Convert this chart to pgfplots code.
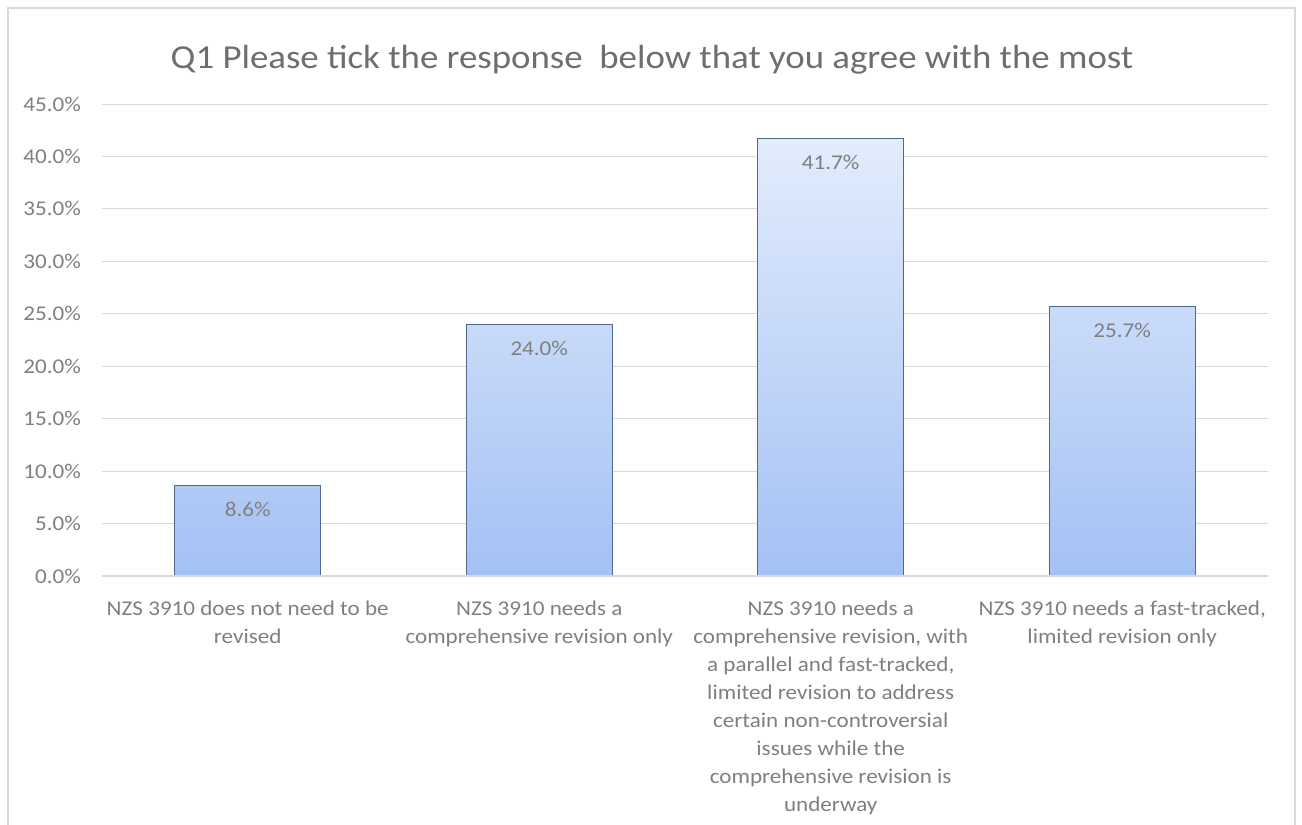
\documentclass[border=0pt]{standalone}
\usepackage{pgfplots}
\pgfplotsset{compat=1.18}
\usepackage{fontspec}
\setmainfont{Carlito}[FakeStretch=1.1]
\definecolor{txt}{HTML}{7F7F7F}
\definecolor{ttl}{HTML}{6E6E6E}
\definecolor{gridc}{HTML}{D9D9D9}
\definecolor{bartop}{HTML}{E2ECFC}
\definecolor{barbot}{HTML}{A4C1F4}
\definecolor{barline}{HTML}{52688A}
\begin{document}
\begin{tikzpicture}[x=1pt,y=1pt]
\useasboundingbox (0,0) rectangle (1302,825);
\begin{scope}
\clip (0,0) rectangle (1302,825);
\draw[gridc, line width=1.2pt] (8,-5) rectangle (1295,817);
\end{scope}
\node[text=ttl, font=\fontsize{33.5}{40}\selectfont, anchor=base] at (652,756) {Q1 Please tick the response~ below that you agree with the most};
\begin{axis}[
  at={(102pt,249pt)}, anchor=south west,
  scale only axis, width=1166pt, height=472pt,
  xmin=-0.5, xmax=3.5, ymin=0, ymax=45,
  ytick={0,5,...,45},
  xtick={0,1,2,3},
  xticklabels={
    {NZS 3910 does not need to be\\revised},
    {NZS 3910 needs a\\comprehensive revision only},
    {NZS 3910 needs a\\comprehensive revision, with\\a parallel and fast-tracked,\\limited revision to address\\certain non-controversial\\issues while the\\comprehensive revision is\\underway},
    {NZS 3910 needs a fast-tracked,\\limited revision only}},
  xticklabel style={anchor=north, align=center, inner sep=0pt, yshift=-20pt, text=txt, font=\fontsize{21}{28}\selectfont},
  yticklabel style={anchor=east, inner sep=0pt, xshift=-21pt, text=txt, font=\fontsize{21}{25}\selectfont},
  yticklabel={\pgfmathprintnumber[fixed,fixed zerofill,precision=1]{\tick}\%},
  /pgf/number format/assume math mode=true,
  axis line style={draw=none},
  axis x line*=bottom,
  axis y line*=left,
  tick style={draw=none},
  ymajorgrids, grid style={gridc, line width=1pt},
  ybar, bar width=146pt,
  nodes near coords={\pgfmathprintnumber[fixed,fixed zerofill,precision=1]{\pgfplotspointmeta}\%},
  every node near coord/.append style={anchor=north, yshift=-13pt, text=txt, font=\fontsize{21}{25}\selectfont},
  clip=false,
]
\addplot[draw=barline, line width=1pt, top color=bartop, bottom color=barbot] coordinates {(0,8.6) (1,24.0) (2,41.7) (3,25.7)};
\draw[gridc, line width=1.2pt] (axis cs:-0.5,0) -- (axis cs:3.5,0);
\end{axis}
\end{tikzpicture}
\end{document}
